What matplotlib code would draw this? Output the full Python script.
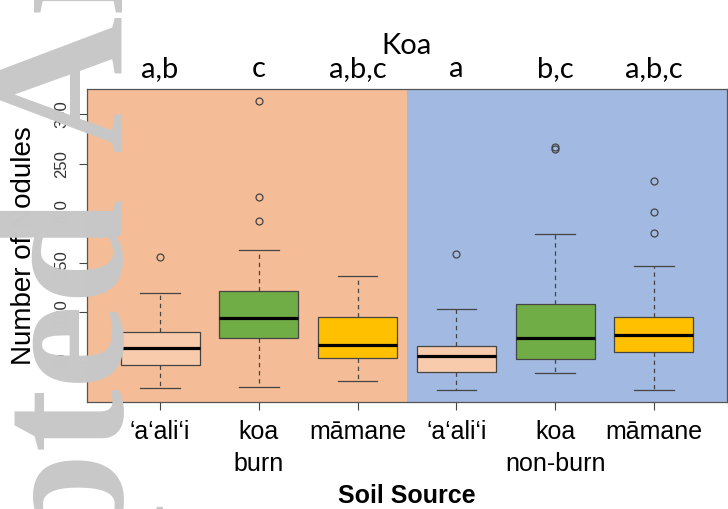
import matplotlib
matplotlib.use("Agg")
import matplotlib.pyplot as plt

# Box statistics (number of nodules)
groups = ["\u2018a\u2018ali\u2018i", "koa\nburn", "m\u0101mane",
          "\u2018a\u2018ali\u2018i", "koa\nnon-burn", "m\u0101mane"]
whislo = [23, 24, 31, 21, 39, 21]
q1 = [46.5, 73.5, 53.5, 40, 53, 60]
med = [64, 94, 67, 55.5, 74, 77]
q3 = [80.5, 121, 95.5, 66, 108, 95]
whishi = [119, 163, 137, 103, 179, 147]
fliers = [[156], [314, 217, 192], [], [159], [265, 267], [233, 201, 180]]
letters = ["a,b", "c", "a,b,c", "a", "b,c", "a,b,c"]
yticks = [50, 100, 150, 200, 250, 300]

box_colors = ["#F8CBAD", "#70AD47", "#FFC000", "#F8CBAD", "#70AD47", "#FFC000"]
edge = "#444444"

stats = []
for i in range(len(groups)):
    stats.append(dict(whislo=whislo[i], q1=q1[i], med=med[i], q3=q3[i],
                      whishi=whishi[i], fliers=fliers[i]))

fig = plt.figure(figsize=(7.28, 5.09), dpi=100)
ax = fig.add_axes([87 / 728, 1 - 402 / 509, 640 / 728, 313 / 509])

n = len(groups)
ax.axvspan(0.26, 3.5, color="#F4BD97", zorder=0, lw=0)
ax.axvspan(3.5, n + 0.74, color="#A2B9E1", zorder=0, lw=0)

bp = ax.bxp(stats, positions=range(1, n + 1), widths=0.8, capwidths=0.4,
            patch_artist=True, manage_ticks=False,
            boxprops=dict(edgecolor=edge, linewidth=0.9),
            medianprops=dict(color="black", linewidth=2.3),
            whiskerprops=dict(color=edge, linewidth=0.9, linestyle=(0, (3.5, 3))),
            capprops=dict(color=edge, linewidth=0.9),
            flierprops=dict(marker="o", markerfacecolor="none",
                            markeredgecolor=edge, markersize=5, markeredgewidth=0.9))
for patch, c in zip(bp["boxes"], box_colors):
    patch.set_facecolor(c)
for m in bp["medians"]:
    m.set_solid_capstyle("butt")

# R-style 4% padding
lo = min(whislo)
hi = max(max(whishi), max(max(f) for f in fliers if f))
pad = 0.04 * (hi - lo)
ax.set_ylim(lo - pad, hi + pad)
ax.set_xlim(0.5 - 0.04 * n, n + 0.5 + 0.04 * n)

ax.set_yticks(yticks)
ax.set_yticklabels([str(t) for t in yticks], rotation=90, va="center",
                   fontsize=12, color="#333333", family="Liberation Sans")
ax.set_xticks(range(1, n + 1))
ax.set_xticklabels(groups, fontsize=18, family="Liberation Sans",
                   linespacing=1.4)
ax.tick_params(axis="both", length=6, width=0.8, color="#444444")
ax.tick_params(axis="x", pad=7)
ax.tick_params(axis="y", pad=7)
for s in ax.spines.values():
    s.set_color("#555555")
    s.set_linewidth(0.9)

ax.set_xlabel("Soil Source", fontsize=18, fontweight="bold",
              family="Liberation Sans", labelpad=6)
fig.text(24 / 728, 0.5 * ((1 - 402 / 509) + (1 - 89 / 509)), "Number of Nodules",
         rotation=90, ha="center", va="center", fontsize=20,
         family="Liberation Sans")

# significance letters and title
tr = ax.get_xaxis_transform()
for i, lab in enumerate(letters):
    ax.text(i + 1, 1 + (89 - 69) / 313, lab, transform=tr, ha="center",
            va="center", fontsize=21, family="Lato")
ax.text(0.5, 1 + (89 - 46) / 313, "Koa", transform=ax.transAxes,
        ha="center", va="center", fontsize=21, family="Lato")

# journal watermark on the left edge
wm = dict(rotation=90, rotation_mode="anchor", va="baseline", fontsize=137,
          fontweight="bold", family="Liberation Serif", color="#C8C8C8",
          zorder=10)
fig.text(121 / 728, 1 - 196 / 509, "Accepted", ha="right", **wm)
fig.text(121 / 728, 1 - 152 / 509, "Article", ha="left", **wm)

fig.savefig("out.png", dpi=100)
